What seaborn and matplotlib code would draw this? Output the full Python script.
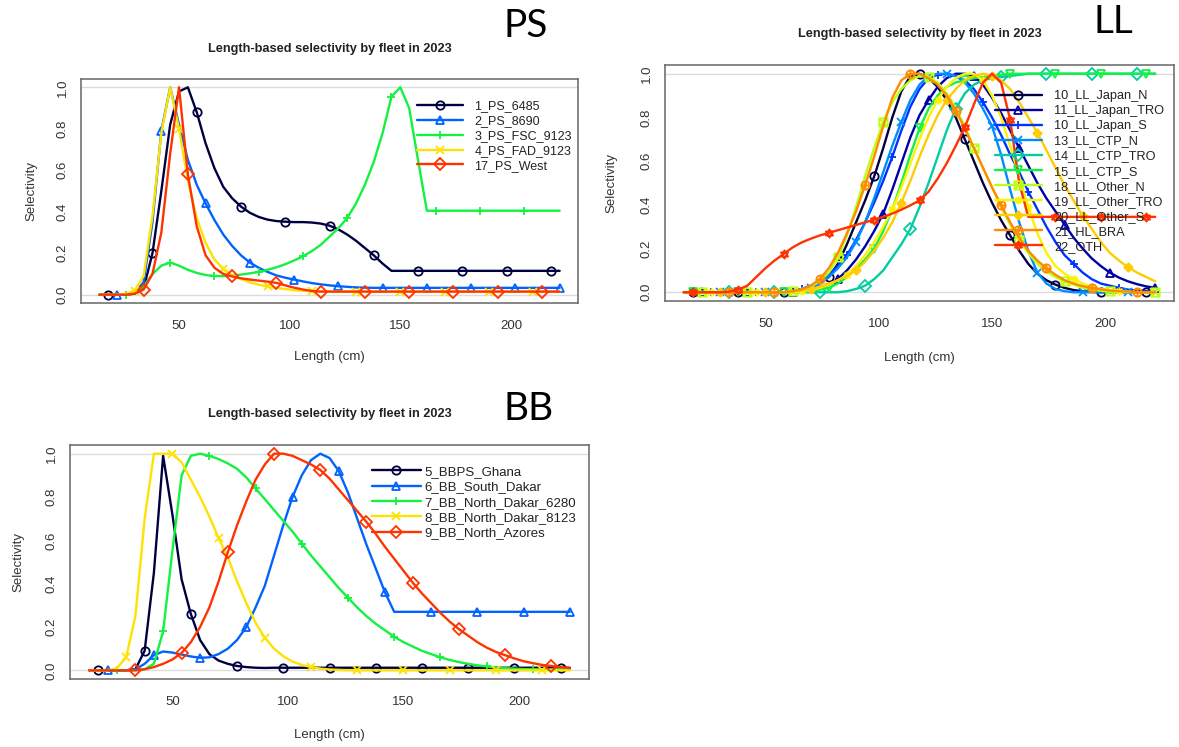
import matplotlib

matplotlib.use("Agg")

import matplotlib.pyplot as plt
from matplotlib.lines import Line2D
from matplotlib.path import Path
import seaborn as sns

# length bins (cm)
LENGTH = [14, 18, 22, 26, 30, 34, 38, 42, 46, 50,
          54, 58, 62, 66, 70, 74, 78, 82, 86, 90,
          94, 98, 102, 106, 110, 114, 118, 122, 126, 130,
          134, 138, 142, 146, 150, 154, 158, 162, 166, 170,
          174, 178, 182, 186, 190, 194, 198, 202, 206, 210,
          214, 218, 222]

# ---- purse seine ----
PS_FLEETS = ["1_PS_6485", "2_PS_8690", "3_PS_FSC_9123", "4_PS_FAD_9123", "17_PS_West"]
PS_6485 = [0, 0, 0, 0, 0.005, 0.03, 0.2, 0.5, 0.82, 0.98,
           1.0, 0.88, 0.73, 0.61, 0.52, 0.465, 0.425, 0.395, 0.375, 0.362,
           0.355, 0.352, 0.35, 0.35, 0.348, 0.343, 0.333, 0.315, 0.29, 0.26,
           0.225, 0.19, 0.15, 0.115, 0.115, 0.115, 0.115, 0.115, 0.115, 0.115,
           0.115, 0.115, 0.115, 0.115, 0.115, 0.115, 0.115, 0.115, 0.115, 0.115,
           0.115, 0.115, 0.115]
PS_8690 = [0, 0, 0, 0, 0.01, 0.06, 0.35, 0.79, 1.0, 0.82,
           0.65, 0.53, 0.44, 0.36, 0.29, 0.235, 0.19, 0.155, 0.13, 0.11,
           0.093, 0.082, 0.073, 0.064, 0.056, 0.05, 0.045, 0.041, 0.038, 0.035,
           0.034, 0.033, 0.033, 0.033, 0.033, 0.033, 0.033, 0.033, 0.033, 0.033,
           0.033, 0.033, 0.033, 0.033, 0.033, 0.033, 0.033, 0.033, 0.033, 0.033,
           0.033, 0.033, 0.033]
PS_FSC_9123 = [0, 0, 0, 0, 0.01, 0.04, 0.1, 0.14, 0.155, 0.14,
               0.12, 0.105, 0.095, 0.09, 0.09, 0.092, 0.097, 0.103, 0.11, 0.12,
               0.132, 0.147, 0.165, 0.185, 0.21, 0.24, 0.28, 0.32, 0.37, 0.44,
               0.53, 0.64, 0.78, 0.955, 1.0, 0.9, 0.65, 0.405, 0.405, 0.405,
               0.405, 0.405, 0.405, 0.405, 0.405, 0.405, 0.405, 0.405, 0.405, 0.405,
               0.405, 0.405, 0.405]
PS_FAD_9123 = [0, 0, 0, 0.005, 0.02, 0.09, 0.38, 0.78, 1.0, 0.8,
               0.55, 0.37, 0.25, 0.17, 0.125, 0.095, 0.075, 0.06, 0.048, 0.04,
               0.033, 0.027, 0.022, 0.019, 0.017, 0.015, 0.015, 0.015, 0.015, 0.015,
               0.015, 0.015, 0.015, 0.015, 0.015, 0.015, 0.015, 0.015, 0.015, 0.015,
               0.015, 0.015, 0.015, 0.015, 0.015, 0.015, 0.015, 0.015, 0.015, 0.015,
               0.015, 0.015, 0.015]
PS_WEST = [0, 0, 0, 0, 0.005, 0.025, 0.1, 0.3, 0.68, 1.0,
           0.58, 0.33, 0.19, 0.13, 0.1, 0.088, 0.079, 0.073, 0.068, 0.063,
           0.057, 0.045, 0.034, 0.025, 0.018, 0.015, 0.015, 0.015, 0.015, 0.015,
           0.015, 0.015, 0.015, 0.015, 0.015, 0.015, 0.015, 0.015, 0.015, 0.015,
           0.015, 0.015, 0.015, 0.015, 0.015, 0.015, 0.015, 0.015, 0.015, 0.015,
           0.015, 0.015, 0.015]

# ---- longline ----
LL_FLEETS = ["10_LL_Japan_N", "11_LL_Japan_TRO", "10_LL_Japan_S", "13_LL_CTP_N",
             "14_LL_CTP_TRO", "15_LL_CTP_S", "18_LL_Other_N", "19_LL_Other_TRO",
             "20_LL_Other_S", "21_HL_BRA", "22_OTH"]
LL_JAPAN_N = [0, 0, 0, 0, 0, 0, 0, 0, 0, 0,
              0, 0, 0.005, 0.01, 0.02, 0.04, 0.07, 0.13, 0.22, 0.32,
              0.42, 0.53, 0.66, 0.8, 0.92, 0.99, 1.0, 0.98, 0.94, 0.88,
              0.8, 0.7, 0.6, 0.5, 0.41, 0.33, 0.26, 0.19, 0.13, 0.085,
              0.055, 0.035, 0.02, 0.01, 0.005, 0.002, 0, 0, 0, 0,
              0, 0, 0]
LL_JAPAN_TRO = [0, 0, 0, 0, 0, 0, 0, 0, 0, 0,
                0, 0, 0, 0.005, 0.01, 0.02, 0.035, 0.06, 0.1, 0.15,
                0.21, 0.28, 0.36, 0.47, 0.59, 0.71, 0.81, 0.88, 0.94, 0.98,
                1.0, 1.0, 0.99, 0.95, 0.89, 0.82, 0.74, 0.66, 0.58, 0.5,
                0.43, 0.37, 0.31, 0.25, 0.2, 0.155, 0.12, 0.09, 0.067, 0.05,
                0.037, 0.027, 0.02]
LL_JAPAN_S = [0, 0, 0, 0, 0, 0, 0, 0, 0, 0,
              0, 0, 0.005, 0.015, 0.03, 0.05, 0.08, 0.12, 0.17, 0.24,
              0.32, 0.41, 0.51, 0.62, 0.74, 0.85, 0.93, 0.98, 0.995, 1.0,
              0.99, 0.97, 0.93, 0.87, 0.8, 0.72, 0.63, 0.55, 0.46, 0.38,
              0.3, 0.23, 0.17, 0.13, 0.09, 0.06, 0.04, 0.03, 0.02, 0.012,
              0.008, 0.005, 0.003]
LL_CTP_N = [0, 0, 0, 0, 0, 0, 0, 0, 0, 0,
            0, 0, 0.005, 0.01, 0.02, 0.04, 0.07, 0.11, 0.16, 0.23,
            0.32, 0.43, 0.55, 0.67, 0.78, 0.88, 0.95, 0.99, 1.0, 1.0,
            0.99, 0.96, 0.91, 0.84, 0.76, 0.63, 0.47, 0.32, 0.19, 0.09,
            0.04, 0.015, 0.005, 0, 0, 0, 0, 0, 0, 0,
            0, 0, 0]
LL_CTP_TRO = [0, 0, 0, 0, 0, 0, 0, 0, 0, 0,
              0, 0, 0, 0, 0, 0, 0, 0, 0.005, 0.015,
              0.03, 0.06, 0.1, 0.16, 0.22, 0.29, 0.39, 0.5, 0.62, 0.74,
              0.84, 0.91, 0.95, 0.97, 0.98, 0.985, 0.99, 0.995, 1.0, 1.0,
              1.0, 1.0, 1.0, 1.0, 1.0, 1.0, 1.0, 1.0, 1.0, 1.0,
              1.0, 1.0, 1.0]
LL_CTP_S = [0, 0, 0, 0, 0, 0, 0, 0, 0, 0,
            0, 0, 0, 0.003, 0.006, 0.012, 0.02, 0.04, 0.07, 0.11,
            0.15, 0.2, 0.28, 0.38, 0.5, 0.63, 0.75, 0.84, 0.9, 0.94,
            0.96, 0.97, 0.98, 0.985, 0.99, 0.995, 1.0, 1.0, 1.0, 1.0,
            1.0, 1.0, 1.0, 1.0, 1.0, 1.0, 1.0, 1.0, 1.0, 1.0,
            1.0, 1.0, 1.0]
LL_OTHER_N = [0, 0, 0, 0, 0, 0, 0, 0, 0, 0,
              0, 0, 0.005, 0.01, 0.025, 0.05, 0.09, 0.16, 0.26, 0.39,
              0.53, 0.66, 0.78, 0.87, 0.93, 0.97, 0.99, 0.985, 0.96, 0.91,
              0.84, 0.76, 0.66, 0.57, 0.48, 0.39, 0.31, 0.24, 0.18, 0.13,
              0.095, 0.07, 0.05, 0.035, 0.02, 0.012, 0.007, 0.004, 0.002, 0,
              0, 0, 0]
LL_OTHER_TRO = [0, 0, 0, 0, 0, 0, 0, 0, 0, 0,
                0, 0, 0, 0.005, 0.01, 0.02, 0.035, 0.055, 0.08, 0.12,
                0.17, 0.23, 0.3, 0.38, 0.48, 0.59, 0.7, 0.8, 0.88, 0.94,
                0.98, 1.0, 1.0, 0.97, 0.9, 0.8, 0.67, 0.53, 0.39, 0.27,
                0.18, 0.12, 0.085, 0.06, 0.04, 0.025, 0.015, 0.01, 0.006, 0.003,
                0, 0, 0]
LL_OTHER_S = [0, 0, 0, 0, 0, 0, 0, 0, 0, 0,
              0, 0, 0.003, 0.008, 0.015, 0.025, 0.04, 0.055, 0.075, 0.1,
              0.14, 0.19, 0.25, 0.32, 0.41, 0.51, 0.62, 0.72, 0.81, 0.88,
              0.93, 0.97, 0.99, 1.0, 0.99, 0.97, 0.93, 0.87, 0.8, 0.73,
              0.65, 0.57, 0.49, 0.42, 0.35, 0.29, 0.23, 0.18, 0.145, 0.115,
              0.09, 0.07, 0.05]
HL_BRA = [0, 0, 0, 0, 0, 0, 0, 0, 0, 0,
          0, 0, 0.005, 0.012, 0.03, 0.06, 0.11, 0.18, 0.27, 0.37,
          0.49, 0.62, 0.76, 0.89, 0.97, 1.0, 1.0, 0.98, 0.95, 0.9,
          0.83, 0.75, 0.66, 0.57, 0.48, 0.4, 0.32, 0.25, 0.19, 0.145,
          0.11, 0.08, 0.055, 0.04, 0.028, 0.02, 0.013, 0.008, 0.005, 0.003,
          0, 0, 0]
OTH = [0, 0, 0, 0, 0, 0.003, 0.012, 0.03, 0.07, 0.11,
       0.145, 0.175, 0.205, 0.228, 0.245, 0.26, 0.272, 0.284, 0.296, 0.308,
       0.32, 0.332, 0.345, 0.36, 0.378, 0.398, 0.42, 0.46, 0.52, 0.59,
       0.67, 0.755, 0.86, 0.96, 1.0, 0.96, 0.79, 0.5, 0.345, 0.345,
       0.345, 0.345, 0.345, 0.345, 0.345, 0.345, 0.345, 0.345, 0.345, 0.345,
       0.345, 0.345, 0.345]

# ---- baitboat ----
BB_FLEETS = ["5_BBPS_Ghana", "6_BB_South_Dakar", "7_BB_North_Dakar_6280",
             "8_BB_North_Dakar_8123", "9_BB_North_Azores"]
BB_GHANA = [0, 0, 0, 0, 0, 0.005, 0.09, 0.45, 0.99, 0.72,
            0.42, 0.26, 0.14, 0.075, 0.045, 0.03, 0.02, 0.015, 0.012, 0.011,
            0.012, 0.012, 0.012, 0.012, 0.012, 0.012, 0.012, 0.012, 0.012, 0.012,
            0.012, 0.012, 0.012, 0.012, 0.012, 0.012, 0.012, 0.012, 0.012, 0.012,
            0.012, 0.012, 0.012, 0.012, 0.012, 0.012, 0.012, 0.012, 0.012, 0.012,
            0.012, 0.012, 0.012]
BB_SOUTH_DAKAR = [0, 0, 0, 0, 0, 0.005, 0.03, 0.07, 0.087, 0.082,
                  0.073, 0.064, 0.058, 0.06, 0.075, 0.1, 0.14, 0.2, 0.29, 0.39,
                  0.53, 0.67, 0.8, 0.9, 0.97, 1.0, 0.98, 0.92, 0.82, 0.7,
                  0.58, 0.47, 0.36, 0.27, 0.27, 0.27, 0.27, 0.27, 0.27, 0.27,
                  0.27, 0.27, 0.27, 0.27, 0.27, 0.27, 0.27, 0.27, 0.27, 0.27,
                  0.27, 0.27, 0.27]
BB_NORTH_DAKAR_6280 = [0, 0, 0, 0, 0, 0, 0.005, 0.03, 0.18, 0.55,
                       0.9, 0.99, 1.0, 0.99, 0.975, 0.955, 0.93, 0.89, 0.84, 0.79,
                       0.74, 0.69, 0.64, 0.585, 0.53, 0.48, 0.43, 0.38, 0.335, 0.29,
                       0.25, 0.215, 0.185, 0.155, 0.13, 0.11, 0.09, 0.075, 0.06, 0.048,
                       0.038, 0.03, 0.023, 0.018, 0.013, 0.01, 0.008, 0.006, 0.005, 0.005,
                       0.005, 0.005, 0.005]
BB_NORTH_DAKAR_8123 = [0, 0, 0, 0.01, 0.06, 0.25, 0.7, 1.0, 1.0, 1.0,
                       0.96, 0.88, 0.8, 0.71, 0.61, 0.52, 0.41, 0.31, 0.22, 0.15,
                       0.1, 0.065, 0.04, 0.025, 0.015, 0.008, 0.004, 0.002, 0, 0,
                       0, 0, 0, 0, 0, 0, 0, 0, 0, 0,
                       0, 0, 0, 0, 0, 0, 0, 0, 0, 0,
                       0, 0, 0]
BB_NORTH_AZORES = [0, 0, 0, 0, 0, 0, 0.005, 0.015, 0.03, 0.05,
                   0.08, 0.13, 0.2, 0.29, 0.41, 0.545, 0.67, 0.78, 0.88, 0.95,
                   1.0, 1.0, 0.99, 0.97, 0.95, 0.925, 0.885, 0.835, 0.785, 0.735,
                   0.685, 0.63, 0.57, 0.515, 0.46, 0.405, 0.355, 0.31, 0.265, 0.225,
                   0.19, 0.16, 0.13, 0.105, 0.085, 0.07, 0.055, 0.042, 0.033, 0.025,
                   0.02, 0.015, 0.01]

TITLE = "Length-based selectivity by fleet in 2023"

# rich.colors.short(5) and (11) as used by r4ss
COLORS_5 = ["#000040", "#0063FF", "#13F240", "#FEE201", "#FF3300"]
COLORS_11 = ["#000043", "#0000A3", "#0033FF", "#008CFF", "#01CCA3", "#13F243",
             "#BAFF12", "#FCF203", "#FFCC00", "#FF8C00", "#FF3300"]

# R pch symbols that matplotlib does not have
MV, LN, CL = Path.MOVETO, Path.LINETO, Path.CLOSEPOLY
SQUARE_X = Path([(-1, -1), (1, -1), (1, 1), (-1, 1), (-1, -1), (-1, -1), (1, 1), (-1, 1), (1, -1)],
                [MV, LN, LN, LN, CL, MV, LN, MV, LN])
ASTERISK = Path([(-1, 0), (1, 0), (0, -1), (0, 1), (-0.7, -0.7), (0.7, 0.7), (-0.7, 0.7), (0.7, -0.7)],
                [MV, LN] * 4)
DIAMOND_PLUS = Path([(0, -1), (1, 0), (0, 1), (-1, 0), (0, -1), (-1, 0), (1, 0), (0, -1), (0, 1)],
                    [MV, LN, LN, LN, CL, MV, LN, MV, LN])
CIRCLE_PLUS = Path.make_compound_path(Path.unit_circle(),
                                      Path([(-1, 0), (1, 0)], [MV, LN]),
                                      Path([(0, -1), (0, 1)], [MV, LN]))
STAR_DAVID = Path([(0, 1), (-0.866, -0.5), (0.866, -0.5), (0, 1),
                   (0, -1), (-0.866, 0.5), (0.866, 0.5), (0, -1)],
                  [MV, LN, LN, CL, MV, LN, LN, CL])

MARKERS_5 = ["o", "^", "+", "x", "D"]
MARKERS_11 = ["o", "^", "+", "x", "D", "v", SQUARE_X, ASTERISK, DIAMOND_PLUS, CIRCLE_PLUS, STAR_DAVID]

FIG_W, FIG_H = 1179, 747


def px_axes(fig, left, top, right, bottom):
    return fig.add_axes([left / FIG_W, 1 - bottom / FIG_H, (right - left) / FIG_W, (bottom - top) / FIG_H])


def draw_panel(ax, fleets, series, colors, markers, leg, lab, title_y, fs_leg):
    ax.axhline(0, color="#dcdcdc", lw=1, zorder=0)
    ax.axhline(1, color="#dcdcdc", lw=1, zorder=0)
    handles = []
    for k, (name, vals, col, mk) in enumerate(zip(fleets, series, colors, markers)):
        style = dict(color=col, lw=1.7, marker=mk, markersize=6, mec=col, mfc="none", mew=1.3)
        sns.lineplot(x=LENGTH, y=vals, ax=ax, estimator=None, markevery=(k % 5 + 1, 5), **style)
        handles.append(Line2D([], [], **style))

    ax.set_xlim(5.7, 230.3)
    ax.set_ylim(-0.04, 1.04)
    ax.set_xticks([50, 100, 150, 200])
    ax.set_yticks([0, 0.2, 0.4, 0.6, 0.8, 1.0])
    ax.set_yticklabels(["0.0", "0.2", "0.4", "0.6", "0.8", "1.0"], rotation=90, va="center")
    ax.tick_params(axis="both", length=5, width=1, color="#555555", labelcolor="#333333", labelsize=9.5)
    ax.tick_params(axis="x", pad=7)
    ax.tick_params(axis="y", pad=4)
    for sp in ax.spines.values():
        sp.set_color("#666666")
        sp.set_linewidth(1.1)

    ax.set_xlabel("Length (cm)", fontsize=9.5, color="#333333", va="center")
    ax.set_ylabel("Selectivity", fontsize=9.5, color="#333333", va="center")
    ax.xaxis.set_label_coords(0.5, lab[1])
    ax.yaxis.set_label_coords(lab[0], 0.5)
    ax.text(0.5, title_y, TITLE, transform=ax.transAxes, ha="center", va="center",
            fontsize=9.2, fontweight="bold", color="#222222")

    ax.legend(handles, fleets, loc="upper left", bbox_to_anchor=leg[:2], frameon=False,
              borderpad=0, borderaxespad=0, handlelength=leg[2], handletextpad=leg[3],
              labelspacing=leg[4], prop={"size": fs_leg}, labelcolor="#222222")


def main() -> None:
    sns.set_style("white")
    plt.rcParams["font.family"] = ["Liberation Sans", "DejaVu Sans"]

    fig = plt.figure(figsize=(FIG_W / 100, FIG_H / 100), dpi=100)
    fig.patch.set_facecolor("white")

    ax_ps = px_axes(fig, 81, 79, 578, 303)
    draw_panel(ax_ps, PS_FLEETS, [PS_6485, PS_8690, PS_FSC_9123, PS_FAD_9123, PS_WEST],
               COLORS_5, MARKERS_5, (0.677, 0.905, 3.64, 0.92, 0.23), (-0.099, -0.24), 1.132, 9)

    ax_ll = px_axes(fig, 665, 65, 1174, 301)
    draw_panel(ax_ll, LL_FLEETS,
               [LL_JAPAN_N, LL_JAPAN_TRO, LL_JAPAN_S, LL_CTP_N, LL_CTP_TRO, LL_CTP_S,
                LL_OTHER_N, LL_OTHER_TRO, LL_OTHER_S, HL_BRA, OTH],
               COLORS_11, MARKERS_11, (0.648, 0.893, 3.67, 0.98, 0.24), (-0.105, -0.243), 1.13, 9.2)

    ax_bb = px_axes(fig, 70, 445, 589, 679)
    draw_panel(ax_bb, BB_FLEETS,
               [BB_GHANA, BB_SOUTH_DAKAR, BB_NORTH_DAKAR_6280, BB_NORTH_DAKAR_8123, BB_NORTH_AZORES],
               COLORS_5, MARKERS_5, (0.581, 0.912, 3.74, 0.28, 0.24), (-0.1, -0.24), 1.134, 9.5)

    for label, x, y in [("PS", 526, 26), ("LL", 1113, 22), ("BB", 529, 409)]:
        fig.text(x / FIG_W, 1 - y / FIG_H, label, ha="center", va="center",
                 fontsize=28, family=["Lato", "DejaVu Sans"], color="black")

    fig.savefig("out.png", dpi=100, facecolor="white")
    plt.close(fig)


if __name__ == "__main__":
    main()
